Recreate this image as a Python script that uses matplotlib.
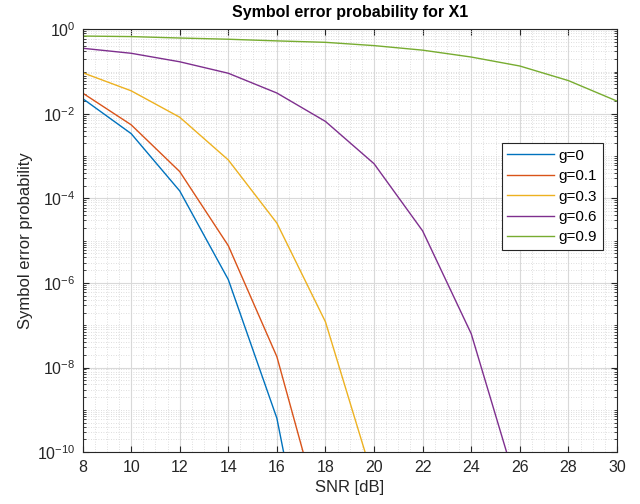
import numpy as np
import matplotlib
matplotlib.use("Agg")
import matplotlib.pyplot as plt
from matplotlib.ticker import FixedLocator, MultipleLocator, NullFormatter

plt.rcParams['font.family'] = ['Liberation Sans', 'DejaVu Sans']

snr = [8, 10, 12, 14, 16, 18, 20, 22, 24, 26, 28, 30]
nan = np.nan
ser_g0 = [2.3e-2, 3.4e-3, 1.5e-4, 1.2e-6, 6.3e-10, 1e-15, nan, nan, nan, nan, nan, nan]
ser_g01 = [3.1e-2, 5.5e-3, 4.3e-4, 7.6e-6, 1.8e-8, 1.2e-12, nan, nan, nan, nan, nan, nan]
ser_g03 = [9.4e-2, 3.5e-2, 8.3e-3, 8.1e-4, 2.6e-5, 1.2e-7, 2e-11, nan, nan, nan, nan, nan]
ser_g06 = [0.355, 0.27, 0.17, 0.091, 0.031, 6.6e-3, 6.6e-4, 1.7e-5, 6.3e-8, 9e-12, nan, nan]
ser_g09 = [0.69, 0.67, 0.62, 0.58, 0.53, 0.49, 0.41, 0.32, 0.22, 0.135, 0.061, 0.02]

labels = ['g=0', 'g=0.1', 'g=0.3', 'g=0.6', 'g=0.9']
colors = ['#0072BD', '#D95319', '#EDB120', '#7E2F8E', '#77AC30']
series = [ser_g0, ser_g01, ser_g03, ser_g06, ser_g09]

fig = plt.figure(figsize=(6.4, 5.04), dpi=100)
ax = fig.add_axes([0.129, 0.103, 0.835, 0.839])

for s, lab, c in zip(series, labels, colors):
    ax.semilogy(snr, s, color=c, lw=1.0, label=lab)

ax.set_xlim(8, 30)
ax.set_ylim(1e-10, 1)
ax.xaxis.set_major_locator(MultipleLocator(2))
ax.xaxis.set_minor_locator(MultipleLocator(0.5))
ax.yaxis.set_major_locator(FixedLocator([10.0**k for k in range(-10, 1, 2)]))
minors = []
for e in range(-10, 0):
    for k in range(1, 10):
        v = k * 10.0**e
        if not (k == 1 and e % 2 == 0):
            minors.append(v)
ax.yaxis.set_minor_locator(FixedLocator(minors))
ax.yaxis.set_minor_formatter(NullFormatter())

ax.grid(which='major', color='#d9d9d9', lw=0.8, ls='-')
ax.grid(which='minor', color='#d4d4d4', lw=0.6, ls=(0, (1, 2)))
ax.set_axisbelow(True)

ax.tick_params(which='both', direction='in', top=True, right=True, colors='#262626',
               labelsize=11.5)
ax.tick_params(axis='x', which='major', length=4, pad=6)
ax.tick_params(axis='y', which='major', length=4, pad=5)
ax.tick_params(which='minor', length=2)
ax.tick_params(axis='x', which='minor', length=0)
for sp in ax.spines.values():
    sp.set_color('#262626')
    sp.set_linewidth(0.8)

ax.set_title('Symbol error probability for X1', fontsize=11.5, fontweight='bold', pad=9)
ax.set_xlabel('SNR [dB]', fontsize=12, color='#262626', labelpad=3)
ax.set_ylabel('Symbol error probability', fontsize=12, color='#262626', labelpad=3)

leg = ax.legend(loc='upper left', bbox_to_anchor=(0.784, 0.73), fontsize=11,
                frameon=True, fancybox=False, edgecolor='#262626', framealpha=1,
                handlelength=3.1, borderpad=0.35, labelspacing=0.42, handletextpad=0.3,
                borderaxespad=0)
leg.get_frame().set_linewidth(0.8)

fig.savefig('out.png', dpi=100)
